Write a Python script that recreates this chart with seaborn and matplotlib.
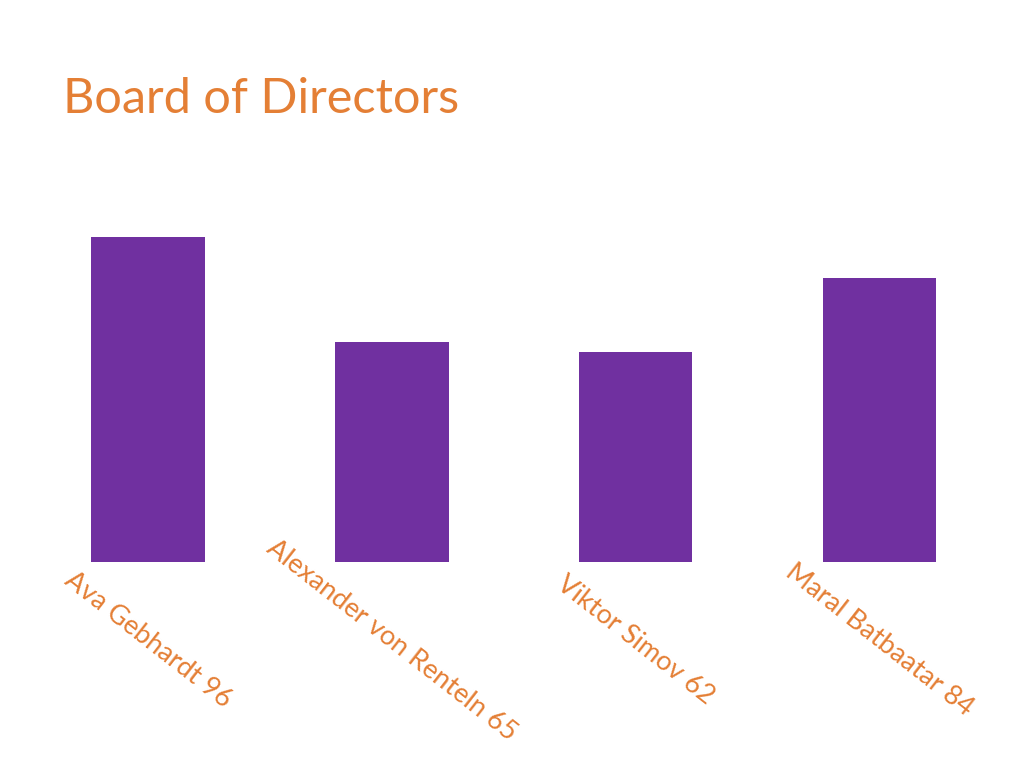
import pandas as pd
import seaborn as sns
import matplotlib.pyplot as plt

# chart data
directors = ['Ava Gebhardt', 'Alexander von Renteln', 'Viktor Simov', 'Maral Batbaatar']
scores = [96, 65, 62, 84]
tick_labels = [f'{n} {s}' for n, s in zip(directors, scores)]

PURPLE = '#7030A0'
ORANGE = '#E47F35'

sns.set_style('white')
plt.rcParams['font.family'] = ['Lato', 'DejaVu Sans']

df = pd.DataFrame({'Director': directors, 'Score': scores})

fig = plt.figure(figsize=(10.24, 7.68), dpi=100)
ax = fig.add_axes([0.025, 0.268, 0.953, 0.4408])

sns.barplot(data=df, x='Director', y='Score', color=PURPLE, saturation=1,
            width=0.467, linewidth=0, ax=ax)

ax.set_ylim(0, 100)
ax.set_xlim(-0.5, len(directors) - 0.5)
ax.set_xticks([])
ax.set_yticks([])
ax.set_xlabel('')
ax.set_ylabel('')
sns.despine(ax=ax, left=True, bottom=True)

# rotated labels under each bar
for i, lab in enumerate(tick_labels):
    ax.text(i, -23, lab, rotation=-38, rotation_mode='anchor',
            ha='center', va='center', color=ORANGE, fontsize=19.5,
            clip_on=False)

fig.text(0.0615, 0.853, 'Board of Directors', color=ORANGE, fontsize=35,
         ha='left', va='baseline')

fig.savefig('out.png', dpi=100)
